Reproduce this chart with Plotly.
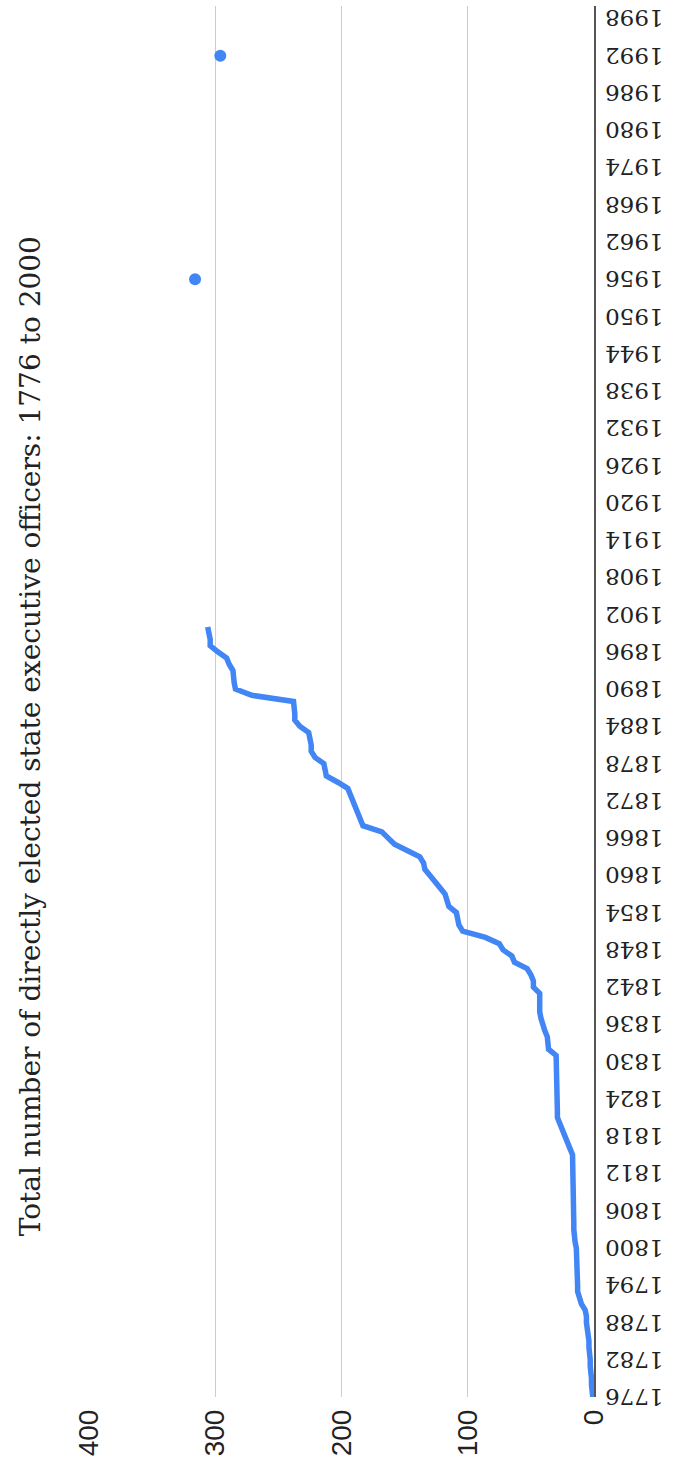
import plotly.graph_objects as go

title_text = "Total number of directly elected state executive officers: 1776 to 2000"

line_years = list(range(1776, 1901))
line_counts = [
    1, 2, 2, 2, 3, 3, 3, 4, 4, 4,          # 1776-1785
    5, 5, 6, 6, 7, 10, 12, 13, 13, 13,     # 1786-1795
    13, 14, 14, 14, 14, 15, 16, 16, 16, 16,  # 1796-1805
    16, 16, 17, 17, 17, 17, 17, 17, 17, 17,  # 1806-1815
    19, 21, 23, 26, 28, 29, 29, 29, 29, 30,  # 1816-1825
    30, 30, 30, 30, 30, 30, 36, 36, 37, 39,  # 1826-1835
    41, 42, 43, 43, 43, 43, 48, 48, 50, 53,  # 1836-1845
    63, 65, 72, 75, 86, 104, 107, 108, 109, 115,  # 1846-1855
    116, 118, 122, 126, 129, 134, 135, 138, 148, 158,  # 1856-1865
    163, 168, 183, 185, 187, 188, 190, 193, 195, 203,  # 1866-1875
    212, 213, 214, 221, 224, 224, 225, 226, 233, 237,  # 1876-1885
    237, 237, 238, 271, 284, 285, 285, 286, 289, 291,  # 1886-1895
    298, 304, 304, 305, 306,                            # 1896-1900
]

dot_years = [1956, 1992]
dot_counts = [316, 296]

tick_years = list(range(1776, 1999, 6))
value_ticks = [0, 100, 200, 300, 400]

BLUE = "#4285F4"

fig = go.Figure()
fig.add_trace(go.Scatter(
    x=line_counts, y=line_years, mode="lines",
    line=dict(color=BLUE, width=5.5),
    hoverinfo="skip", showlegend=False,
))
fig.add_trace(go.Scatter(
    x=dot_counts, y=dot_years, mode="markers",
    marker=dict(color=BLUE, size=12),
    hoverinfo="skip", showlegend=False,
))

fig.update_layout(
    width=680, height=1473,
    margin=dict(l=89, r=86, t=6, b=76, autoexpand=False),
    paper_bgcolor="white", plot_bgcolor="white",
    xaxis=dict(
        range=[400, 0], tickvals=value_ticks,
        ticktext=[str(v) for v in value_ticks],
        tickangle=-90, showgrid=True, gridcolor="#cccccc", gridwidth=1,
        zeroline=False, showline=False, ticks="", automargin=False,
        ticklabelstandoff=6,
        tickfont=dict(family="Liberation Sans, Arial", size=28, color="#222222"),
    ),
    yaxis=dict(
        range=[1776, 2000], side="right", tickvals=tick_years,
        ticktext=[str(y) for y in tick_years],
        tickangle=180, showgrid=False, zeroline=False, automargin=False,
        showline=True, linecolor="#555555", linewidth=2, ticks="",
        ticklabelstandoff=63, ticklabelshift=7, ticklabeloverflow="allow",
        tickfont=dict(family="DejaVu Serif", size=23, color="#222222"),
    ),
    annotations=[dict(
        text=title_text, xref="paper", yref="paper",
        x=-0.1168, y=0.475, xanchor="center", yanchor="middle",
        textangle=-90, showarrow=False,
        font=dict(family="DejaVu Serif", size=28, color="#222222"),
    )],
)

fig.write_html("out.html")
